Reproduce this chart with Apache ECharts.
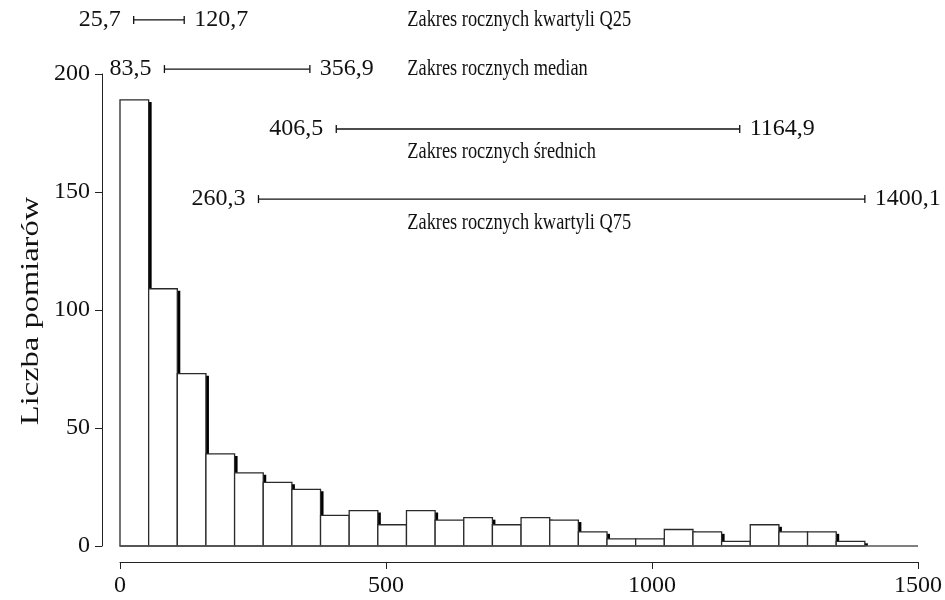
<!DOCTYPE html>
<html>
<head>
<meta charset="utf-8">
<script src="https://cdn.jsdelivr.net/npm/echarts@6/dist/echarts.min.js"></script>
<style>html,body{margin:0;padding:0;background:#fff}#c{width:945px;height:600px}</style>
</head>
<body>
<div id="c"></div>
<script>
// ---- data ----
var binStart = 0;
var binWidth = 53.85;
var counts = [189, 109, 73, 39, 31, 27, 24, 13, 15, 9, 15, 11, 12, 9, 12, 11, 6, 3, 3, 7, 6, 2, 9, 6, 6, 2];
var xTicks = [0, 500, 1000, 1500];
var yTicks = [0, 50, 100, 150, 200];
var yTitle = 'Liczba pomiarów';
var rangeNames = ['Zakres rocznych kwartyli Q25', 'Zakres rocznych median', 'Zakres rocznych średnich', 'Zakres rocznych kwartyli Q75'];
var rangeLow = [25.7, 83.5, 406.5, 260.3];
var rangeHigh = [120.7, 356.9, 1164.9, 1400.1];
var rangeLowLabels = ['25,7', '83,5', '406,5', '260,3'];
var rangeHighLabels = ['120,7', '356,9', '1164,9', '1400,1'];

// ---- layout (positions only) ----
var lineLevel = [222.9, 202.1, 176.7, 147.0];      // y of range lines (axis units)
var nameLevel = [222.9, 202.1, 167.0, 136.9];      // y of range names (axis units)
var nameX = 540;                                    // x of range names (axis units)
var FAM = '"Liberation Serif", "Times New Roman", serif';
var NUM_FONT = '24px ' + FAM;
var NAME_FONT = '24px ' + FAM;
var NAME_SCALE_X = 0.765;

var barData = counts.map(function (c, i) {
  return [binStart + i * binWidth, binStart + (i + 1) * binWidth, c];
});
var rangeData = rangeLow.map(function (lo, i) { return [lo, rangeHigh[i], i]; });

var chart = echarts.init(document.getElementById('c'), null, {renderer: 'canvas'});
chart.setOption({
  animation: false,
  backgroundColor: '#fff',
  grid: {left: 120, right: 27, top: 74, bottom: 54, containLabel: false},
  graphic: [{
    type: 'text', x: 31, y: 311, rotation: Math.PI / 2, scaleX: 1.25,
    style: {text: yTitle, font: '26px ' + FAM, fill: '#111', align: 'center', verticalAlign: 'middle'}
  }],
  xAxis: {
    type: 'value', min: 0, max: 1500, interval: 500,
    offset: 16,
    splitLine: {show: false},
    axisLine: {show: true, onZero: false, lineStyle: {color: '#222', width: 1}},
    axisTick: {show: true, length: 7, lineStyle: {color: '#222', width: 1}},
    axisLabel: {color: '#111', fontFamily: FAM, fontSize: 24, margin: 12,
      formatter: function (v) { return xTicks.indexOf(v) >= 0 ? String(v) : ''; }}
  },
  yAxis: {
    type: 'value', min: 0, max: 200, interval: 50,
    offset: 18,
    splitLine: {show: false},
    axisLine: {show: true, onZero: false, lineStyle: {color: '#222', width: 1}},
    axisTick: {show: true, length: 7, lineStyle: {color: '#222', width: 1}},
    axisLabel: {color: '#111', fontFamily: FAM, fontSize: 24, margin: 12,
      formatter: function (v) { return yTicks.indexOf(v) >= 0 ? String(v) : ''; }}
  },
  series: [
    {
      type: 'custom',
      name: 'hist',
      clip: false,
      encode: {x: [0, 1], y: 2},
      data: barData,
      renderItem: function (params, api) {
        var tl = api.coord([api.value(0), api.value(2)]);
        var br = api.coord([api.value(1), 0]);
        var w = br[0] - tl[0];
        var h = br[1] - tl[1];
        return {
          type: 'group',
          children: [
            {type: 'rect', shape: {x: tl[0] + 3, y: tl[1] + 2, width: w, height: Math.max(h - 2, 0)},
              style: {fill: '#000'}},
            {type: 'rect', shape: {x: tl[0], y: tl[1], width: w, height: h},
              style: {fill: '#fff', stroke: '#2a2a2a', lineWidth: 1.3}}
          ]
        };
      },
      markLine: {
        silent: true, symbol: 'none', label: {show: false},
        lineStyle: {color: '#555', width: 1.6, type: 'solid'},
        data: [[{coord: [0, 0]}, {coord: [1500, 0]}]]
      },
      z: 2
    },
    {
      type: 'custom',
      name: 'ranges',
      clip: false,
      encode: {x: [0, 1]},
      data: rangeData,
      renderItem: function (params, api) {
        var i = api.value(2);
        var a = api.coord([api.value(0), lineLevel[i]]);
        var b = api.coord([api.value(1), lineLevel[i]]);
        var n = api.coord([nameX, nameLevel[i]]);
        var ls = {stroke: '#111', lineWidth: 1.3};
        return {
          type: 'group',
          children: [
            {type: 'line', shape: {x1: a[0], y1: a[1], x2: b[0], y2: b[1]}, style: ls},
            {type: 'line', shape: {x1: a[0], y1: a[1] - 4, x2: a[0], y2: a[1] + 4}, style: ls},
            {type: 'line', shape: {x1: b[0], y1: b[1] - 4, x2: b[0], y2: b[1] + 4}, style: ls},
            {type: 'text', style: {text: rangeLowLabels[i], x: a[0] - 13, y: a[1], align: 'right', verticalAlign: 'middle', font: NUM_FONT, fill: '#111'}},
            {type: 'text', style: {text: rangeHighLabels[i], x: b[0] + 10, y: b[1], align: 'left', verticalAlign: 'middle', font: NUM_FONT, fill: '#111'}},
            {type: 'text', x: n[0], y: n[1], scaleX: NAME_SCALE_X,
              style: {text: rangeNames[i], x: 0, y: 0, align: 'left', verticalAlign: 'middle', font: NAME_FONT, fill: '#111'}}
          ]
        };
      },
      z: 3
    }
  ]
});
</script>
</body>
</html>
